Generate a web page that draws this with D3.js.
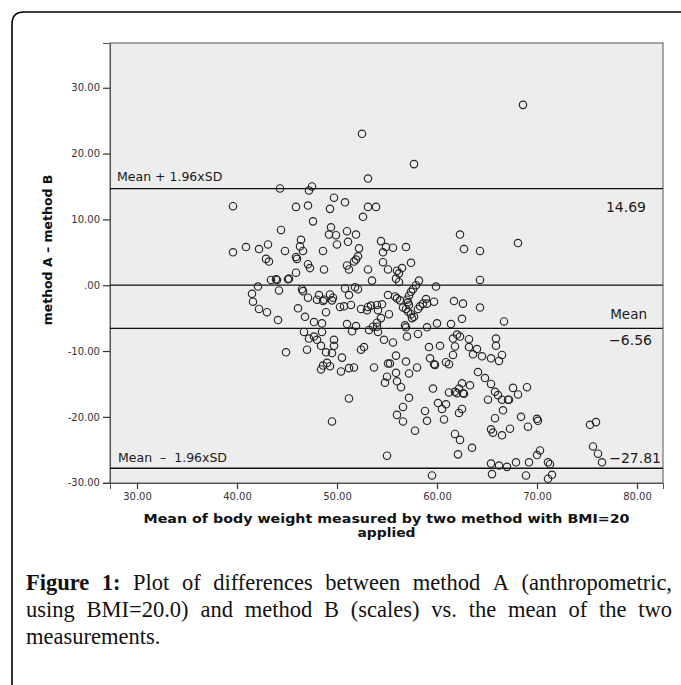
<!DOCTYPE html>
<html>
<head>
<meta charset="utf-8">
<script src="https://cdn.jsdelivr.net/npm/d3@7"></script>
<style>
body{margin:0;background:#fff}
svg{display:block}
</style>
</head>
<body>
<svg id="chart"></svg>
<script>
// mean of the two methods (x) and the difference A - B (y)
let meanVals=[44.3,39.6,45.9,52.5,57.7,53.1,47.5,47.2,49.7,50.8,47.1,49.3,53.1,53.9,68.6,62.3,62.7,64.3,68.1,64.3,
  62.6,64.3,62.5,66.7,44.4,46.4,39.6,40.9,42.2,43.1,44.8,45.9,42.9,43.2,45.9,43.4,43.9,44.0,45.1,45.2,
  42.1,44.2,41.5,41.6,42.2,43.0,44.1,46.1,47.6,52.6,49.4,49.2,49.9,51.0,51.9,46.3,50.0,51.1,54.4,54.9,
  55.6,56.9,54.6,46.6,48.6,52.2,46.0,52.1,51.9,51.7,54.6,57.4,47.1,47.3,51.0,51.2,48.7,53.1,55.1,56.0,
  56.2,56.5,53.5,55.9,56.2,58.2,57.9,59.9,46.5,46.6,51.8,52.1,50.8,57.6,57.4,57.2,57.0,47.1,48.0,48.2,
  48.6,48.7,49.3,49.6,49.5,51.2,55.1,55.8,56.0,56.3,57.1,57.2,56.6,58.9,58.6,59.0,59.7,61.7,51.4,50.7,
  50.3,52.4,53.1,53.4,54.0,54.5,53.0,54.1,48.9,46.8,55.2,54.4,54.0,56.9,57.1,57.4,57.7,58.1,58.3,57.5,
  47.7,48.5,51.0,51.9,53.6,54.0,56.8,56.9,59.0,60.0,61.4,46.7,47.2,47.7,48.5,51.5,54.1,54.7,57.0,58.1,
  62.0,62.3,63.2,48.0,48.4,47.0,44.9,48.9,49.7,49.7,49.5,48.4,48.6,49.0,49.3,50.5,50.4,51.2,51.7,53.2,
  52.4,52.7,55.6,53.7,55.1,55.3,55.9,55.0,54.8,55.9,56.0,56.4,56.9,57.2,58.0,57.2,56.6,56.0,56.6,57.8,
  51.2,49.5,55.0,59.2,59.3,59.7,59.8,60.3,60.9,61.2,61.6,61.8,61.6,63.2,63.6,64.1,59.6,61.2,61.8,62.0,
  62.2,62.5,62.7,62.6,63.3,60.1,60.5,60.9,58.8,59.0,60.7,62.2,62.5,61.8,62.3,63.5,62.1,59.5,64.0,64.5,
  65.4,66.2,66.5,65.9,65.9,64.8,65.4,65.8,66.1,66.5,67.1,67.2,65.1,67.6,68.1,69.0,66.6,65.8,68.4,69.1,
  67.3,66.5,65.4,65.6,70.0,70.1,70.3,70.0,71.1,71.3,71.5,71.1,69.2,68.9,67.9,67.0,66.2,65.4,65.5,75.3,
  75.9,75.6,76.1,76.5];
let diffVals=[14.7,12.0,11.9,23.0,18.4,16.2,15.0,14.4,13.3,12.6,12.1,11.6,11.9,11.9,27.4,7.7,5.5,5.2,6.4,0.8,
  -2.8,-3.4,-5.1,-5.5,8.4,6.9,5.0,5.8,5.5,6.2,5.2,4.3,4.0,3.6,1.9,0.8,0.9,0.8,0.9,1.0,
  -0.2,-0.8,-1.3,-2.5,-3.6,-4.1,-5.3,-3.5,9.7,10.4,8.8,7.7,7.6,8.2,7.7,5.9,6.2,6.6,6.7,5.8,
  5.7,5.8,5.0,5.2,5.2,5.6,4.0,4.4,3.9,3.6,3.5,3.4,3.2,2.6,3.0,2.4,2.4,2.4,2.4,2.2,
  1.8,2.6,0.7,1.0,0.5,0.7,0.0,-0.2,-0.6,-0.9,-0.3,-0.6,-0.5,-0.6,-1.0,-1.6,-2.2,-1.9,-2.2,-1.5,
  -2.4,-2.2,-1.4,-1.9,-2.3,-1.5,-1.5,-1.7,-2.0,-2.3,-2.6,-3.0,-3.4,-2.1,-2.8,-2.8,-2.5,-2.4,-3.0,-3.2,
  -3.3,-3.6,-3.3,-3.1,-3.0,-2.9,-3.8,-3.8,-4.1,-4.8,-4.4,-5.0,-5.7,-3.6,-4.0,-4.4,-4.8,-3.6,-3.2,-5.0,
  -5.6,-5.8,-5.9,-6.2,-6.3,-6.3,-6.1,-6.4,-6.4,-5.8,-5.9,-7.1,-8.1,-7.8,-7.1,-7.0,-7.1,-8.3,-7.8,-7.4,
  -7.5,-7.8,-8.2,-8.3,-9.2,-9.8,-10.2,-10.2,-8.3,-9.2,-10.3,-12.8,-12.2,-11.8,-12.3,-11.0,-13.1,-12.6,-12.5,-6.8,
  -9.8,-9.4,-8.7,-12.5,-11.9,-11.9,-10.7,-13.9,-14.8,-13.3,-14.6,-15.5,-11.6,-13.4,-12.5,-17.1,-18.5,-19.7,-20.7,-22.1,
  -17.2,-20.7,-25.9,-9.4,-11.1,-12.0,-12.1,-9.2,-11.7,-12.0,-8.1,-9.3,-10.6,-9.4,-10.5,-13.2,-15.7,-16.3,-16.2,-16.4,
  -15.7,-14.9,-16.5,-16.4,-15.2,-17.9,-18.8,-18.1,-19.1,-20.6,-20.4,-19.4,-18.8,-22.6,-23.5,-24.7,-25.7,-28.9,-9.7,-10.8,
  -11.1,-11.5,-10.6,-9.2,-8.1,-14.1,-15.0,-16.2,-16.7,-17.4,-17.4,-17.4,-17.4,-15.6,-16.6,-15.5,-19.0,-20.2,-20.0,-21.5,
  -21.8,-22.8,-21.9,-22.4,-20.3,-20.6,-25.1,-25.8,-26.9,-27.2,-28.8,-29.4,-26.9,-28.9,-26.9,-27.6,-27.4,-27.1,-28.7,-21.2,
  -20.8,-24.5,-25.6,-26.9];

let refVals=[14.69,0,-6.56,-27.81];
let xTicks=[30,40,50,60,70,80];
let yTicks=[-30,-20,-10,0,10,20,30];

let w=681, h=685;
let plotL=110, plotR=663, plotT=43, plotB=483;
let svg=d3.select('#chart').attr('width',w).attr('height',h);

let xScale=d3.scaleLinear().domain([27.3,82.6]).range([plotL,plotR]);
let yScale=d3.scaleLinear().domain([-30.05,36.8]).range([plotB,plotT]);

// outer frame (rounded top-left corner, runs off the page)
svg.append('path')
  .attr('d','M12,'+(h+5)+' L12,24 Q12,12 24,12 L'+(w+5)+',12')
  .attr('fill','none').attr('stroke','#000').attr('stroke-width',1.6);

// plot area
svg.append('rect')
  .attr('x',plotL).attr('y',plotT).attr('width',plotR-plotL).attr('height',plotB-plotT)
  .attr('fill','#ededed').attr('stroke','#555').attr('stroke-width',1);

// axes
let fmt=d=>d===0?'.00':d.toFixed(2);
let xAxis=d3.axisBottom(xScale).tickValues(xTicks).tickFormat(fmt).tickSizeOuter(0).tickSize(6).tickPadding(4);
let gx=svg.append('g').attr('transform','translate(0,'+plotB+')').call(xAxis);
let yAxis=d3.axisLeft(yScale).tickValues(yTicks).tickFormat(fmt).tickSizeOuter(0).tickSize(7).tickPadding(3);
let gy=svg.append('g').attr('transform','translate('+plotL+',0)').call(yAxis);
[gx,gy].forEach(g=>{
  g.select('.domain').attr('stroke','#555');
  g.selectAll('.tick line').attr('stroke','#333').attr('stroke-width',1.2);
  g.selectAll('.tick text').attr('font-family','DejaVu Sans').attr('font-size',10).attr('fill','#333');
});

// reference lines
svg.selectAll('line.ref').data(refVals).enter().append('line')
  .attr('class','ref')
  .attr('x1',plotL).attr('x2',plotR)
  .attr('y1',d=>yScale(d)).attr('y2',d=>yScale(d))
  .attr('stroke','#111').attr('stroke-width',1.3);

// points
svg.append('g').selectAll('circle').data(meanVals).enter().append('circle')
  .attr('cx',d=>xScale(d))
  .attr('cy',(d,i)=>yScale(diffVals[i]))
  .attr('r',3.7)
  .attr('fill','none').attr('stroke','#262626').attr('stroke-width',1.15);

// labels on the reference lines
let lab=(txt,x,y,size,anchor)=>svg.append('text').text(txt)
  .attr('x',x).attr('y',y).attr('font-family','DejaVu Sans').attr('font-size',size)
  .attr('text-anchor',anchor).attr('fill','#1a1a1a').style('white-space','pre');
lab('Mean + 1.96xSD',117,181,12.5,'start');
lab('14.69',646,212,14,'end');
lab('Mean',647,319,13.5,'end');
lab('\u22126.56',652,345,14,'end');
lab('Mean  \u2013  1.96xSD',118,462,12.5,'start');
lab('\u221227.81',661,463,14,'end');

// axis titles
svg.append('text').text('Mean of body weight measured by two method with BMI=20')
  .attr('x',(plotL+plotR)/2).attr('y',523).attr('text-anchor','middle')
  .attr('textLength',486).attr('lengthAdjust','spacingAndGlyphs')
  .attr('font-family','DejaVu Sans').attr('font-weight','bold').attr('font-size',13).attr('fill','#111');
svg.append('text').text('applied')
  .attr('x',(plotL+plotR)/2).attr('y',537).attr('text-anchor','middle')
  .attr('textLength',58).attr('lengthAdjust','spacingAndGlyphs')
  .attr('font-family','DejaVu Sans').attr('font-weight','bold').attr('font-size',13).attr('fill','#111');
svg.append('text').text('method A \u2013 method B')
  .attr('transform','translate(52,250) rotate(-90)').attr('text-anchor','middle')
  .attr('font-family','DejaVu Sans').attr('font-weight','bold').attr('font-size',12.5).attr('fill','#111');

// caption, justified like the journal page
let capLines=[
  {y:590, just:true, words:['Figure*','1:*','Plot','of','differences','between','method','A','(anthropometric,']},
  {y:617, just:true, words:['using','BMI=20.0)','and','method','B','(scales)','vs.','the','mean','of','the','two']},
  {y:644, just:false, words:['measurements.']}
];
let cx0=26, cx1=672;
capLines.forEach(line=>{
  let nodes=line.words.map(wd=>{
    let bold=wd.endsWith('*');
    return svg.append('text').text(bold?wd.slice(0,-1):wd)
      .attr('y',line.y).attr('font-family','Liberation Serif').attr('font-size',22.5)
      .attr('font-weight',bold?'bold':'normal').attr('fill','#111');
  });
  let widths=nodes.map(n=>n.node().getComputedTextLength());
  let gap=line.just?(cx1-cx0-d3.sum(widths))/(nodes.length-1):5.6;
  let x=cx0;
  nodes.forEach((n,i)=>{n.attr('x',x); x+=widths[i]+gap;});
});
</script>
</body>
</html>
